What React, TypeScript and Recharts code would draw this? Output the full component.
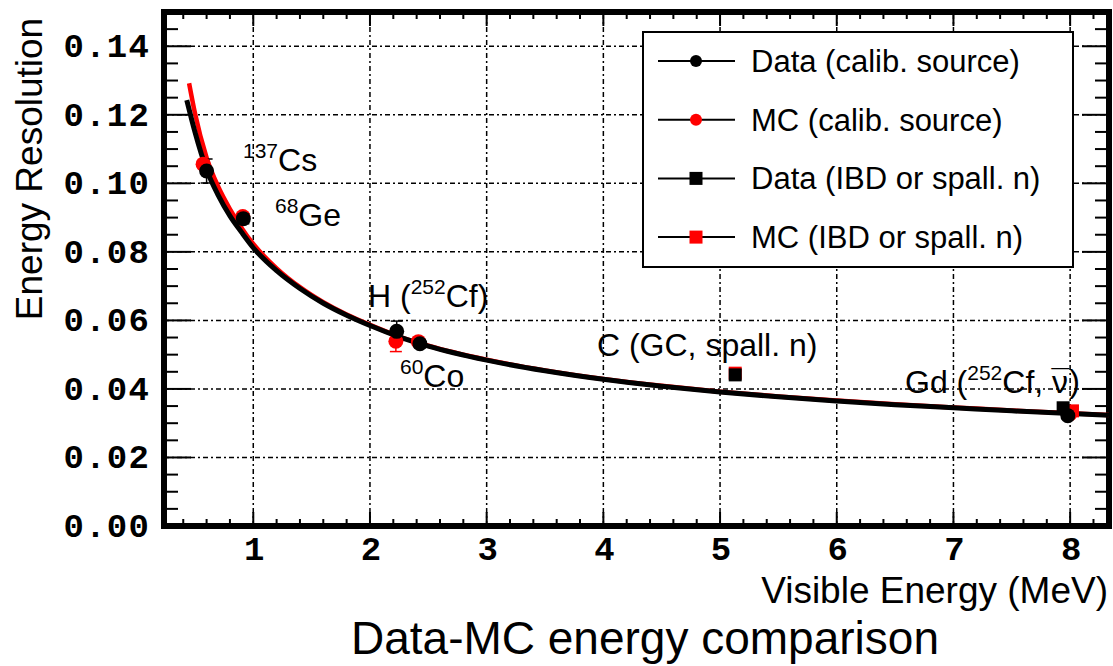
import React from 'react';
import {
  ComposedChart,
  Line,
  Scatter,
  XAxis,
  YAxis,
  ReferenceLine,
  ReferenceArea,
  ReferenceDot,
  ErrorBar,
  Legend,
} from 'recharts';

// ---- data -------------------------------------------------------------

// Resolution fit to data (black) and to MC (red), sampled along visible energy
const fitDataCurve = [
  { x: 0.43, y: 0.1243 }, { x: 0.5, y: 0.115 }, { x: 0.6, y: 0.104 },
  { x: 0.7, y: 0.0965 }, { x: 0.8, y: 0.0905 }, { x: 0.9, y: 0.0857 },
  { x: 1.0, y: 0.0812 }, { x: 1.2, y: 0.0745 }, { x: 1.4, y: 0.0693 },
  { x: 1.6, y: 0.065 }, { x: 1.8, y: 0.0615 }, { x: 2.0, y: 0.0585 },
  { x: 2.25, y: 0.0552 }, { x: 2.5, y: 0.0525 }, { x: 3.0, y: 0.0484 },
  { x: 3.5, y: 0.0453 }, { x: 4.0, y: 0.0428 }, { x: 4.5, y: 0.0408 },
  { x: 5.0, y: 0.0391 }, { x: 5.5, y: 0.0377 }, { x: 6.0, y: 0.0365 },
  { x: 6.5, y: 0.0354 }, { x: 7.0, y: 0.0345 }, { x: 7.5, y: 0.0336 },
  { x: 8.0, y: 0.0328 }, { x: 8.333, y: 0.0323 },
];

const fitMcCurve = [
  { x: 0.45, y: 0.1292 }, { x: 0.5, y: 0.1205 }, { x: 0.6, y: 0.1075 },
  { x: 0.7, y: 0.099 }, { x: 0.8, y: 0.0925 }, { x: 0.9, y: 0.087 },
  { x: 1.0, y: 0.0823 }, { x: 1.2, y: 0.0752 }, { x: 1.4, y: 0.0697 },
  { x: 1.6, y: 0.0653 }, { x: 1.8, y: 0.0617 }, { x: 2.0, y: 0.0587 },
  { x: 2.25, y: 0.0553 }, { x: 2.5, y: 0.0526 }, { x: 3.0, y: 0.0485 },
  { x: 3.5, y: 0.0454 }, { x: 4.0, y: 0.0429 }, { x: 4.5, y: 0.0409 },
  { x: 5.0, y: 0.0392 }, { x: 5.5, y: 0.0378 }, { x: 6.0, y: 0.0366 },
  { x: 6.5, y: 0.0355 }, { x: 7.0, y: 0.0346 }, { x: 7.5, y: 0.0337 },
  { x: 8.0, y: 0.0329 }, { x: 8.333, y: 0.0324 },
];

// Calibration sources: 137Cs, 68Ge, H (252Cf), 60Co, Gd (252Cf)
const dataCalib = [
  { x: 0.6, y: 0.1036, err: 0.0035 },
  { x: 0.915, y: 0.0897, err: 0.0015 },
  { x: 2.229, y: 0.0568, err: 0.003 },
  { x: 2.428, y: 0.0532, err: 0.0012 },
  { x: 7.98, y: 0.0322, err: 0.0008 },
];

const mcCalib = [
  { x: 0.57, y: 0.1056, err: 0.001 },
  { x: 0.91, y: 0.0903, err: 0.001 },
  { x: 2.222, y: 0.0539, err: 0.003 },
  { x: 2.415, y: 0.0538, err: 0.001 },
  { x: 8.0, y: 0.0328, err: 0.0008 },
];

// Neutron captures from IBD / spallation: C (GC), Gd
const dataIbd = [
  { x: 5.13, y: 0.0441, err: 0.0012 },
  { x: 7.94, y: 0.0345, err: 0.0008 },
];

const mcIbd = [
  { x: 5.13, y: 0.0446, err: 0.0012 },
  { x: 8.02, y: 0.0336, err: 0.0008 },
];

const xTickValues = [
  0.4, 0.6, 0.8, 1, 1.2, 1.4, 1.6, 1.8, 2, 2.2, 2.4, 2.6, 2.8, 3, 3.2, 3.4, 3.6, 3.8,
  4, 4.2, 4.4, 4.6, 4.8, 5, 5.2, 5.4, 5.6, 5.8, 6, 6.2, 6.4, 6.6, 6.8, 7, 7.2, 7.4,
  7.6, 7.8, 8, 8.2,
];

const yTickValues = [
  0, 0.005, 0.01, 0.015, 0.02, 0.025, 0.03, 0.035, 0.04, 0.045, 0.05, 0.055, 0.06,
  0.065, 0.07, 0.075, 0.08, 0.085, 0.09, 0.095, 0.1, 0.105, 0.11, 0.115, 0.12,
  0.125, 0.13, 0.135, 0.14, 0.145, 0.15,
];

const xGridValues = [1, 2, 3, 4, 5, 6, 7, 8];
const yGridValues = [0.02, 0.04, 0.06, 0.08, 0.1, 0.12, 0.14];

const legendItems = [
  { label: 'Data (calib. source)', color: '#000000', marker: 'circle' },
  { label: 'MC (calib. source)', color: '#ff0000', marker: 'circle' },
  { label: 'Data (IBD or spall. n)', color: '#000000', marker: 'square' },
  { label: 'MC (IBD or spall. n)', color: '#ff0000', marker: 'square' },
];

// Source labels, anchored at the start of their baseline (data units)
const sourceLabels = [
  { x: 0.912, y: 0.1035, parts: [{ text: '137', sup: true }, { text: 'Cs' }] },
  { x: 1.186, y: 0.0875, parts: [{ text: '68', sup: true }, { text: 'Ge' }] },
  { x: 1.983, y: 0.0639, parts: [{ text: 'H (' }, { text: '252', sup: true }, { text: 'Cf)' }] },
  { x: 2.257, y: 0.0405, parts: [{ text: '60', sup: true }, { text: 'Co' }] },
  { x: 3.945, y: 0.0496, parts: [{ text: 'C (GC, spall. n)' }] },
  {
    x: 6.585,
    y: 0.0388,
    parts: [{ text: 'Gd (' }, { text: '252', sup: true }, { text: 'Cf, ' }, { text: 'ν', bar: true }, { text: ')' }],
  },
];

// ---- layout -----------------------------------------------------------

const W = 1113;
const H = 666;
const MARGIN = { top: 12, right: 4, bottom: 0, left: 0 };
const Y_AXIS_W = 164;
const X_AXIS_H = 140;
const PLOT_W = W - MARGIN.left - MARGIN.right - Y_AXIS_W;
const PLOT_H = H - MARGIN.top - MARGIN.bottom - X_AXIS_H;
const X_DOMAIN: [number, number] = [0.235, 8.333];
const Y_DOMAIN: [number, number] = [0, 0.15];

const MONO = '"Liberation Mono", "DejaVu Sans Mono", monospace';
const SANS = '"Liberation Sans", Arial, Helvetica, sans-serif';
const GRID_DASH = '5 3 2 3';

// ---- axis ticks (drawn inward on both sides of the frame) ---------------

const XTick = (props: any) => {
  const { x, y, payload } = props;
  const v = payload.value as number;
  const major = Number.isInteger(v);
  const len = major ? 14 : 7;
  const top = y - PLOT_H;
  return (
    <g>
      <line x1={x} y1={y} x2={x} y2={y - len} stroke="#000" strokeWidth={2} />
      <line x1={x} y1={top} x2={x} y2={top + len} stroke="#000" strokeWidth={2} />
      {major && (
        <text x={x + 1} y={y + 34} textAnchor="middle" fontFamily={MONO} fontWeight="bold" fontSize={34} fill="#000">
          {v}
        </text>
      )}
    </g>
  );
};

const YTick = (props: any) => {
  const { x, y, payload } = props;
  const v = payload.value as number;
  const major = Math.round(v * 1000) % 20 === 0;
  const len = major ? 27 : 14;
  const right = x + PLOT_W;
  return (
    <g>
      <line x1={x} y1={y} x2={x + len} y2={y} stroke="#000" strokeWidth={2} />
      <line x1={right} y1={y} x2={right - len} y2={y} stroke="#000" strokeWidth={2} />
      {major && (
        <text
          x={x - 14}
          y={y + 11}
          textAnchor="end"
          fontFamily={MONO}
          fontWeight="bold"
          fontSize={34}
          letterSpacing={1.2}
          fill="#000"
        >
          {v.toFixed(2)}
        </text>
      )}
    </g>
  );
};

// ---- markers --------------------------------------------------------------

const CircleMark = (color: string) => (p: any) =>
  <circle cx={p.cx} cy={p.cy} r={7.5} fill={color} />;

const SquareMark = (color: string) => (p: any) =>
  <rect x={p.cx - 6.5} y={p.cy - 6.5} width={13} height={13} fill={color} />;

// ---- labels -----------------------------------------------------------------

type Part = { text: string; sup?: boolean; bar?: boolean };

// Text with superscripts; a barred glyph gets a macron laid over it
const renderSourceLabel = (parts: Part[]) => (props: any) => {
  const vb = props.viewBox || {};
  let shifted = false;
  const spans: React.ReactNode[] = [];
  parts.forEach((p, i) => {
    let dy = 0;
    if (p.sup && !shifted) { dy = -13; shifted = true; }
    else if (!p.sup && shifted) { dy = 13; shifted = false; }
    spans.push(
      <tspan key={`t${i}`} dy={dy} fontSize={p.sup ? 21 : 32}>
        {p.text}
      </tspan>,
    );
    if (p.bar) {
      spans.push(
        <tspan key={`b${i}`} dx={-16.5} dy={-1} fontSize={32}>
          ¯
        </tspan>,
      );
      spans.push(<tspan key={`r${i}`} dx={-1.2} dy={1} fontSize={32}>{''}</tspan>);
    }
  });
  return (
    <text x={vb.x} y={vb.y} fontFamily={SANS} fontSize={32} fill="#000">
      {spans}
    </text>
  );
};

const renderXTitle = () => (
  <g>
    <text x={1108} y={603} textAnchor="end" fontFamily={SANS} fontSize={37} fill="#000">
      Visible Energy (MeV)
    </text>
    <text x={645} y={654} textAnchor="middle" fontFamily={SANS} fontSize={46} fill="#000">
      Data-MC energy comparison
    </text>
  </g>
);

const renderYTitle = () => (
  <text
    x={42}
    y={169}
    transform="rotate(-90 42 169)"
    textAnchor="middle"
    fontFamily={SANS}
    fontSize={37}
    fill="#000"
  >
    Energy Resolution
  </text>
);

const LegendBox = () => {
  const rowH = 58.7;
  return (
    <svg width={432} height={237} style={{ display: 'block' }}>
      <rect x={1} y={1} width={430} height={235} fill="#fff" stroke="#000" strokeWidth={2} />
      {legendItems.map((item, i) => {
        const cy = 30 + i * rowH;
        return (
          <g key={item.label}>
            <line x1={16} y1={cy} x2={93} y2={cy} stroke="#000" strokeWidth={2} />
            {item.marker === 'circle' ? (
              <circle cx={54} cy={cy} r={6} fill={item.color} />
            ) : (
              <rect x={47.5} y={cy - 6.5} width={13} height={13} fill={item.color} />
            )}
            <text x={109} y={cy + 11} fontFamily={SANS} fontSize={31} fill="#000">
              {item.label}
            </text>
          </g>
        );
      })}
    </svg>
  );
};

export default function App() {
  return (
    <div style={{ position: 'absolute', left: 0, top: 0, width: W, height: H, background: '#fff' }}>
      <ComposedChart width={W} height={H} margin={MARGIN}>
        <XAxis
          dataKey="x"
          type="number"
          domain={X_DOMAIN}
          allowDataOverflow
          ticks={xTickValues}
          interval={0}
          tick={<XTick />}
          tickSize={0}
          tickMargin={0}
          tickLine={false}
          axisLine={false}
          height={X_AXIS_H}
          label={renderXTitle}
        />
        <YAxis
          dataKey="y"
          type="number"
          domain={Y_DOMAIN}
          allowDataOverflow
          ticks={yTickValues}
          interval={0}
          tick={<YTick />}
          tickSize={0}
          tickMargin={0}
          tickLine={false}
          axisLine={false}
          width={Y_AXIS_W}
          label={renderYTitle}
        />

        {xGridValues.map((v) => (
          <ReferenceLine key={`gx${v}`} x={v} stroke="#000" strokeWidth={1.5} strokeDasharray={GRID_DASH} />
        ))}
        {yGridValues.map((v) => (
          <ReferenceLine key={`gy${v}`} y={v} stroke="#000" strokeWidth={1.5} strokeDasharray={GRID_DASH} />
        ))}

        <Line data={fitMcCurve} dataKey="y" type="monotone" stroke="#ff0000" strokeWidth={4.5} dot={false} isAnimationActive={false} />
        <Line data={fitDataCurve} dataKey="y" type="monotone" stroke="#000000" strokeWidth={5} dot={false} isAnimationActive={false} />

        <Scatter data={mcCalib} dataKey="y" shape={CircleMark('#ff0000')} isAnimationActive={false}>
          <ErrorBar dataKey="err" direction="y" width={6} stroke="#ff0000" strokeWidth={1.5} />
        </Scatter>
        <Scatter data={mcIbd} dataKey="y" shape={SquareMark('#ff0000')} isAnimationActive={false}>
          <ErrorBar dataKey="err" direction="y" width={6} stroke="#ff0000" strokeWidth={1.5} />
        </Scatter>
        <Scatter data={dataCalib} dataKey="y" shape={CircleMark('#000000')} isAnimationActive={false}>
          <ErrorBar dataKey="err" direction="y" width={6} stroke="#000000" strokeWidth={1.5} />
        </Scatter>
        <Scatter data={dataIbd} dataKey="y" shape={SquareMark('#000000')} isAnimationActive={false}>
          <ErrorBar dataKey="err" direction="y" width={6} stroke="#000000" strokeWidth={1.5} />
        </Scatter>

        {sourceLabels.map((s, i) => (
          <ReferenceDot
            key={`lab${i}`}
            x={s.x}
            y={s.y}
            r={0}
            fill="none"
            stroke="none"
            label={renderSourceLabel(s.parts)}
          />
        ))}

        <ReferenceArea
          x1={X_DOMAIN[0]}
          x2={X_DOMAIN[1]}
          y1={Y_DOMAIN[0]}
          y2={Y_DOMAIN[1]}
          fill="none"
          fillOpacity={0}
          stroke="#000"
          strokeWidth={6}
          ifOverflow="visible"
        />

        <Legend
          layout="vertical"
          align="center"
          verticalAlign="middle"
          content={() => <LegendBox />}
          wrapperStyle={{ left: 642, top: 31, width: 432, height: 237, position: 'absolute' }}
        />
      </ComposedChart>
    </div>
  );
}
